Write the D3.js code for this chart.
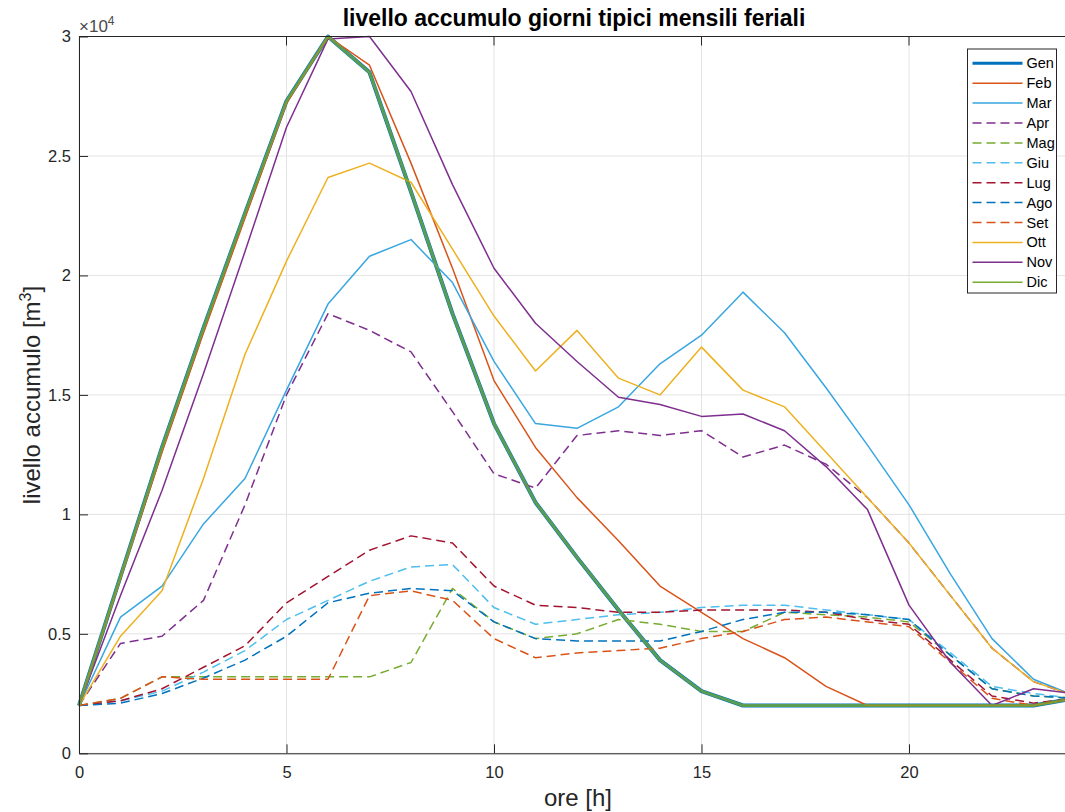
<!DOCTYPE html>
<html>
<head>
<meta charset="utf-8">
<script src="https://cdn.jsdelivr.net/npm/d3@7"></script>
<style>
  body { margin: 0; background: #fff; }
  svg { display: block; font-family: "Liberation Sans", Arial, Helvetica, sans-serif; }
</style>
</head>
<body>
<svg width="1065" height="812"></svg>
<script>
// ore del giorno
var hours = [0,1,2,3,4,5,6,7,8,9,10,11,12,13,14,15,16,17,18,19,20,21,22,23,24];
var xTicks = [0,5,10,15,20];
var yTicks = [0,5000,10000,15000,20000,25000,30000];
var yTickLabels = ["0","0.5","1","1.5","2","2.5","3"];

var months = ["Gen","Feb","Mar","Apr","Mag","Giu","Lug","Ago","Set","Ott","Nov","Dic"];

var gen = [2000,7400,12800,17800,22600,27300,30000,28500,23500,18400,13800,10500,8200,6000,3900,2600,2000,2000,2000,2000,2000,2000,2000,2000,2300];
var feb = [2000,7300,12600,17600,22400,27200,30000,28800,24700,20300,15600,12800,10700,8900,7000,5900,4800,4000,2800,2000,2000,2000,2000,2000,2300];
var mar = [2000,5700,7000,9600,11500,15200,18800,20800,21500,19700,16400,13800,13600,14500,16300,17500,19300,17600,15300,12900,10400,7500,4800,3100,2400];
var apr = [2000,4600,4900,6400,10400,15000,18400,17700,16800,14300,11700,11100,13300,13500,13300,13500,12400,12900,12100,10700,8800,6600,4400,3000,2400];
var mag = [2000,2300,3200,3200,3200,3200,3200,3200,3800,6900,5500,4800,5000,5600,5400,5100,5100,5900,5800,5700,5500,4100,2700,2400,2300];
var giu = [2000,2200,2600,3400,4300,5600,6400,7200,7800,7900,6100,5400,5600,5800,5900,6100,6200,6200,6000,5800,5600,4200,2800,2500,2300];
var lug = [2000,2200,2700,3600,4500,6300,7400,8500,9100,8800,7000,6200,6100,5900,5900,6000,6000,6000,5900,5600,5400,3900,2400,2100,2300];
var ago = [2000,2100,2500,3150,3900,4900,6300,6700,6900,6800,5500,4800,4700,4700,4700,5100,5600,5900,5900,5800,5600,4100,2700,2400,2300];
var set = [2000,2300,3200,3100,3100,3100,3100,6600,6800,6400,4800,4000,4200,4300,4400,4800,5100,5600,5700,5500,5300,3800,2300,2000,2300];
var ott = [2000,4900,6800,11500,16700,20600,24100,24700,23900,21100,18300,16000,17700,15700,15000,17000,15200,14500,12600,10700,8800,6600,4400,3000,2400];
var nov = [2000,6600,11000,15900,21000,26200,29900,30000,27700,23800,20300,18000,16400,14900,14600,14100,14200,13500,12000,10200,6200,3800,2000,2700,2500];
var dic = [2000,7400,12800,17800,22600,27300,30000,28500,23500,18400,13800,10500,8200,6000,3900,2600,2000,2000,2000,2000,2000,2000,2000,2000,2300];

var colors = ["#0072BD","#D95319","#38A6E0","#7E2F8E","#77AC30","#4DBEEE","#A2142F","#0072BD","#D95319","#EDB120","#7E2F8E","#77AC30"];
var dashed = [false,false,false,true,true,true,true,true,true,false,false,false];
var widths = [4,1.5,1.5,1.5,1.5,1.5,1.5,1.5,1.5,1.5,1.5,3];

var series = [gen,feb,mar,apr,mag,giu,lug,ago,set,ott,nov,dic];

(function() {
  var svg = d3.select("svg");
  var mLeft = 79, mRight = 1075, mTop = 36.5, mBottom = 753.3;
  var axisColor = "#262626";

  var x = d3.scaleLinear().domain([0,24]).range([mLeft,mRight]);
  var y = d3.scaleLinear().domain([0,30000]).range([mBottom,mTop]);

  // griglia
  svg.append("g").selectAll("line").data(xTicks).enter().append("line")
    .attr("x1", function(d){ return x(d); }).attr("x2", function(d){ return x(d); })
    .attr("y1", mTop).attr("y2", mBottom)
    .style("stroke","#e3e3e3").style("stroke-width",1);
  svg.append("g").selectAll("line").data(yTicks).enter().append("line")
    .attr("x1", mLeft).attr("x2", mRight)
    .attr("y1", function(d){ return y(d); }).attr("y2", function(d){ return y(d); })
    .style("stroke","#e3e3e3").style("stroke-width",1);

  // linee
  var line = d3.line()
    .x(function(d,i){ return x(hours[i]); })
    .y(function(d){ return y(d); });

  var plot = svg.append("g");
  series.forEach(function(s,i){
    plot.append("path")
      .attr("d", line(s))
      .style("fill","none")
      .style("stroke", colors[i])
      .style("stroke-width", widths[i])
      .style("stroke-opacity", i == 11 ? 0.75 : 1)
      .style("stroke-linejoin","round")
      .style("stroke-dasharray", dashed[i] ? "9,5" : null);
  });

  // assi (box)
  svg.append("g")
    .attr("transform","translate(0," + mBottom + ")")
    .call(d3.axisBottom(x).tickValues(xTicks).tickSizeInner(-9).tickSizeOuter(0).tickPadding(13))
    .call(function(g){
      g.attr("font-family", null).attr("font-size", null);
      g.select(".domain").style("stroke", axisColor);
      g.selectAll(".tick line").style("stroke", axisColor);
      g.selectAll("text").style("font-size","16.5px").style("fill", axisColor);
    });

  svg.append("g")
    .attr("transform","translate(" + mLeft + ",0)")
    .call(d3.axisLeft(y).tickValues(yTicks).tickFormat(function(d,i){ return yTickLabels[i]; })
          .tickSizeInner(-9).tickSizeOuter(0).tickPadding(8))
    .call(function(g){
      g.attr("font-family", null).attr("font-size", null);
      g.select(".domain").style("stroke", axisColor);
      g.selectAll(".tick line").style("stroke", axisColor);
      g.selectAll("text").style("font-size","16.5px").style("fill", axisColor);
    });

  svg.append("line")
    .attr("x1", mLeft).attr("x2", mRight).attr("y1", mTop).attr("y2", mTop)
    .style("stroke", axisColor).style("stroke-width", 1);
  // tick superiori
  svg.append("g").selectAll("line").data(xTicks.slice(1)).enter().append("line")
    .attr("x1", function(d){ return x(d); }).attr("x2", function(d){ return x(d); })
    .attr("y1", mTop).attr("y2", mTop + 9)
    .style("stroke", axisColor);

  // moltiplicatore
  var mult = svg.append("text").attr("x", 79).attr("y", 32)
    .style("font-size","17px").style("fill", "#4a4a4a");
  mult.append("tspan").text("\u00d710");
  mult.append("tspan").attr("dy", -7).style("font-size","12px").text("4");

  // titolo
  svg.append("text")
    .attr("x", 574).attr("y", 26)
    .attr("text-anchor","middle")
    .style("font-size","23px").style("font-weight","bold").style("fill","#000")
    .text("livello accumulo giorni tipici mensili feriali");

  // etichette assi
  svg.append("text")
    .attr("x", 578).attr("y", 806)
    .attr("text-anchor","middle")
    .style("font-size","24px").style("fill", axisColor)
    .text("ore [h]");

  var yl = svg.append("text")
    .attr("transform","translate(40,395) rotate(-90)")
    .attr("text-anchor","middle")
    .style("font-size","24px").style("fill", axisColor);
  yl.append("tspan").text("livello accumulo [m");
  yl.append("tspan").attr("dy",-9).style("font-size","16px").text("3");
  yl.append("tspan").attr("dy",9).text("]");

  // legenda
  var legX = 967.5, legY = 49, legW = 89, legH = 244, rowH = 19.9;
  var leg = svg.append("g");
  leg.append("rect")
    .attr("x", legX).attr("y", legY).attr("width", legW).attr("height", legH)
    .style("fill","#fff").style("stroke","#262626").style("stroke-width",1);
  months.forEach(function(m,i){
    var ry = legY + 14.3 + i*rowH;
    leg.append("line")
      .attr("x1", legX + 5).attr("x2", legX + 55)
      .attr("y1", ry).attr("y2", ry)
      .style("stroke", colors[i])
      .style("stroke-width", i == 0 ? 3 : 1.5)
      .style("stroke-dasharray", dashed[i] ? "9,5" : null);
    leg.append("text")
      .attr("x", legX + 59).attr("y", ry + 5)
      .style("font-size","14.5px").style("fill","#000")
      .text(m);
  });
})();
</script>
</body>
</html>
